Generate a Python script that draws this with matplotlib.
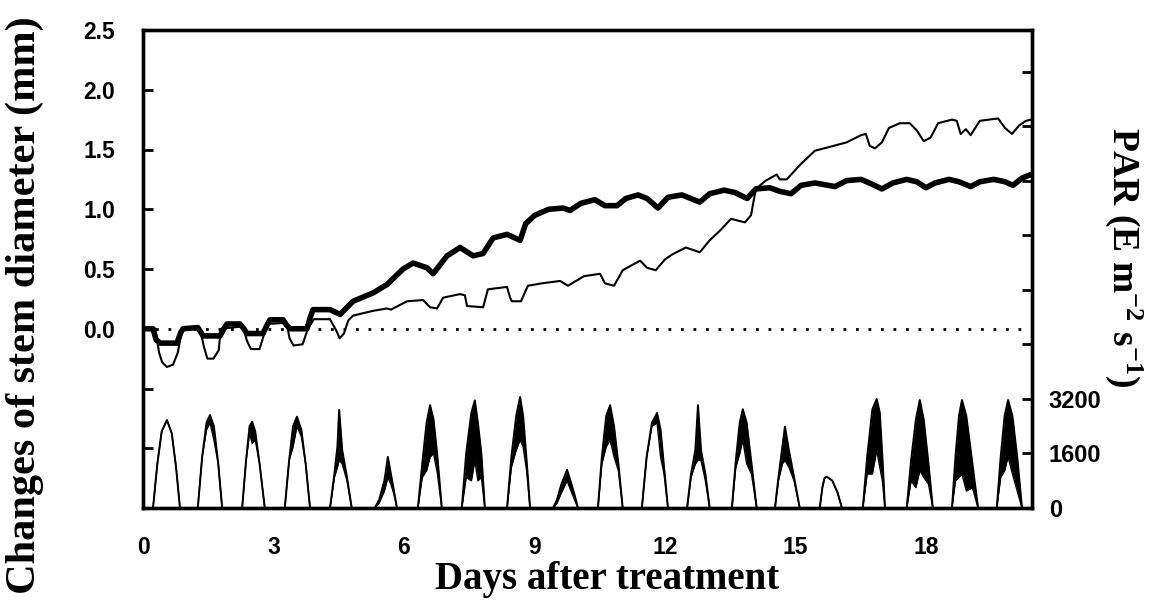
import matplotlib
matplotlib.use("Agg")
import matplotlib.pyplot as plt
import numpy as np

plt.rcParams["mathtext.fontset"] = "custom"
plt.rcParams["mathtext.rm"] = "Liberation Serif:bold"
plt.rcParams["mathtext.bf"] = "Liberation Serif:bold"
plt.rcParams["mathtext.it"] = "Liberation Serif:bold:italic"

# ---------------- data ----------------
# thick line: days, change of stem diameter (mm)
thick_days = [0.00, 0.23, 0.30, 0.39, 0.78, 0.87, 0.92, 1.26, 1.33, 1.38, 1.77, 1.86, 1.93, 2.23,
              2.32, 2.39, 2.76, 2.85, 2.92, 3.22, 3.30, 3.38, 3.77, 3.85, 3.91, 4.30, 4.53, 4.83,
              5.29, 5.61, 5.98, 6.21, 6.53, 6.67, 6.99, 7.29, 7.59, 7.82, 8.05, 8.37, 8.67, 8.80,
              9.01, 9.33, 9.66, 9.82, 10.07, 10.39, 10.62, 10.90, 11.10, 11.38, 11.59, 11.84,
              12.07, 12.39, 12.80, 13.03, 13.36, 13.61, 13.89, 14.09, 14.41, 14.64, 14.90, 15.13,
              15.45, 15.91, 16.18, 16.51, 16.76, 16.99, 17.24, 17.56, 17.79, 18.00, 18.21, 18.53,
              18.76, 19.03, 19.24, 19.56, 19.82, 20.00, 20.21, 20.41]
thick_mm = [0.00, 0.00, -0.09, -0.12, -0.12, -0.03, 0.00, 0.01, -0.03, -0.06, -0.06, 0.00, 0.04, 0.04,
            0.00, -0.04, -0.04, 0.03, 0.075, 0.075, 0.03, 0.00, 0.00, 0.10, 0.16, 0.16, 0.12, 0.23,
            0.30, 0.37, 0.50, 0.55, 0.51, 0.46, 0.61, 0.68, 0.61, 0.63, 0.76, 0.79, 0.74, 0.88,
            0.95, 1.00, 1.01, 0.99, 1.05, 1.08, 1.03, 1.03, 1.09, 1.12, 1.09, 1.01,
            1.10, 1.12, 1.06, 1.13, 1.16, 1.14, 1.09, 1.17, 1.18, 1.15, 1.13, 1.20,
            1.22, 1.19, 1.24, 1.25, 1.21, 1.17, 1.22, 1.25, 1.23, 1.18, 1.22, 1.25,
            1.23, 1.19, 1.23, 1.25, 1.23, 1.20, 1.26, 1.29]

# thin line: days, change of stem diameter (mm)
thin_days = [0.00, 0.28, 0.37, 0.44, 0.55, 0.69, 0.80, 0.89, 0.92, 1.31, 1.40, 1.48, 1.62, 1.74,
             1.79, 2.30, 2.39, 2.48, 2.68, 2.78, 2.85, 3.30, 3.37, 3.46, 3.67, 3.79, 3.93, 4.30,
             4.45, 4.52, 4.62, 4.72, 4.83, 5.29, 5.61, 5.70, 6.07, 6.44, 6.60, 6.76, 6.90, 7.29,
             7.40, 7.45, 7.82, 7.93, 8.37, 8.44, 8.48, 8.69, 8.85, 9.17, 9.59, 9.77, 10.14, 10.51,
             10.62, 10.83, 11.03, 11.43, 11.59, 11.79, 12.00, 12.16, 12.48, 12.80, 13.03, 13.29,
             13.52, 13.84, 13.98, 14.09, 14.32, 14.57, 14.64, 14.80, 15.13, 15.45, 15.77, 16.18,
             16.51, 16.62, 16.71, 16.83, 16.99, 17.15, 17.40, 17.63, 17.79, 17.95, 18.11, 18.28,
             18.60, 18.71, 18.80, 18.92, 19.03, 19.24, 19.66, 19.82, 19.98, 20.14, 20.30, 20.41]
thin_mm = [0.00, 0.00, -0.20, -0.28, -0.32, -0.30, -0.20, -0.02, 0.00, 0.00, -0.15, -0.25, -0.25, -0.18,
           0.00, 0.02, -0.10, -0.17, -0.17, -0.05, 0.04, 0.05, -0.08, -0.14, -0.13, 0.00, 0.08, 0.08,
           -0.02, -0.08, -0.04, 0.07, 0.11, 0.15, 0.17, 0.16, 0.23, 0.24, 0.18, 0.17, 0.26, 0.29,
           0.28, 0.19, 0.18, 0.33, 0.35, 0.26, 0.23, 0.23, 0.36, 0.38, 0.40, 0.36, 0.44, 0.46,
           0.38, 0.36, 0.49, 0.57, 0.51, 0.49, 0.58, 0.62, 0.68, 0.64, 0.74, 0.83,
           0.92, 0.89, 0.95, 1.17, 1.24, 1.29, 1.25, 1.25, 1.38, 1.49, 1.52, 1.56,
           1.62, 1.63, 1.53, 1.51, 1.56, 1.68, 1.72, 1.72, 1.66, 1.57, 1.60, 1.72,
           1.75, 1.74, 1.63, 1.67, 1.62, 1.74, 1.76, 1.68, 1.63, 1.70, 1.74, 1.75]

# PAR daily peaks: times (days), upper envelope and lower envelope of the noisy trace
par_days = [
    [0.23, 0.33, 0.43, 0.55, 0.66, 0.76, 0.85],
    [1.26, 1.36, 1.46, 1.54, 1.63, 1.73, 1.82],
    [2.28, 2.37, 2.45, 2.51, 2.58, 2.68, 2.80],
    [3.26, 3.36, 3.45, 3.54, 3.64, 3.74, 3.84],
    [4.30, 4.40, 4.47, 4.51, 4.58, 4.69, 4.80],
    [5.33, 5.43, 5.55, 5.63, 5.70, 5.77, 5.84],
    [6.32, 6.42, 6.52, 6.60, 6.68, 6.77, 6.87],
    [7.33, 7.43, 7.55, 7.63, 7.70, 7.78, 7.86],
    [8.37, 8.47, 8.58, 8.67, 8.74, 8.82, 8.90],
    [9.43, 9.52, 9.62, 9.75, 9.84, 9.92, 10.00],
    [10.46, 10.55, 10.65, 10.74, 10.83, 10.93, 11.03],
    [11.47, 11.58, 11.70, 11.82, 11.90, 11.98, 12.07],
    [12.51, 12.60, 12.70, 12.76, 12.83, 12.93, 13.03],
    [13.54, 13.63, 13.72, 13.79, 13.88, 13.99, 14.11],
    [14.53, 14.61, 14.70, 14.76, 14.85, 14.97, 15.10],
    [15.56, 15.62, 15.67, 15.72, 15.85, 15.97, 16.07],
    [16.55, 16.65, 16.77, 16.87, 16.94, 17.00, 17.06],
    [17.56, 17.66, 17.77, 17.86, 17.95, 18.06, 18.16],
    [18.60, 18.68, 18.76, 18.83, 18.93, 19.07, 19.20],
    [19.63, 19.72, 19.81, 19.89, 19.99, 20.10, 20.21],
]
par_high = [
    [0, 1300, 2250, 2580, 2200, 1200, 0],
    [0, 1500, 2500, 2730, 2400, 1300, 0],
    [0, 1400, 2400, 2530, 2250, 1300, 0],
    [0, 1400, 2400, 2680, 2300, 1300, 0],
    [0, 1000, 1800, 2880, 1700, 900, 0],
    [0, 250, 800, 1500, 1000, 500, 0],
    [0, 1300, 2500, 3020, 2600, 1500, 0],
    [0, 1600, 2800, 3160, 2500, 1600, 0],
    [0, 1500, 2700, 3260, 2700, 1400, 0],
    [0, 250, 700, 1120, 750, 400, 0],
    [0, 1500, 2700, 3020, 2400, 1300, 0],
    [0, 1500, 2500, 2790, 2300, 1200, 0],
    [0, 1000, 1700, 3020, 1700, 1000, 0],
    [0, 1400, 2500, 2900, 2500, 1300, 0],
    [0, 900, 1800, 2390, 1700, 900, 0],
    [0, 600, 880, 920, 800, 450, 0],
    [0, 1500, 2900, 3200, 2800, 1500, 0],
    [0, 1400, 2600, 3170, 2600, 1300, 0],
    [0, 1500, 2700, 3170, 2700, 1300, 0],
    [0, 1500, 2700, 3170, 2700, 1500, 0],
]
par_low = [
    [0, 1300, 2250, 2580, 2200, 1200, 0],
    [0, 1500, 2300, 2500, 2000, 1300, 0],
    [0, 1400, 2200, 1900, 2000, 1300, 0],
    [0, 1400, 1800, 2400, 2100, 1300, 0],
    [0, 900, 1200, 1400, 1300, 800, 0],
    [0, 150, 500, 900, 700, 400, 0],
    [0, 900, 1100, 1500, 1600, 1000, 0],
    [0, 900, 800, 1400, 800, 900, 0],
    [0, 1200, 1700, 2000, 1800, 1100, 0],
    [0, 150, 450, 800, 500, 250, 0],
    [0, 1300, 1800, 2000, 1500, 1100, 0],
    [0, 1500, 2400, 2500, 1500, 1000, 0],
    [0, 900, 1300, 1400, 1400, 800, 0],
    [0, 1200, 1600, 2000, 1300, 1000, 0],
    [0, 800, 1300, 1400, 1200, 800, 0],
    [0, 600, 880, 920, 800, 450, 0],
    [0, 1000, 1000, 1700, 1200, 800, 0],
    [0, 800, 600, 1100, 900, 700, 0],
    [0, 800, 900, 1000, 500, 600, 0],
    [0, 900, 1100, 1500, 1000, 500, 0],
]

x_ticks = [0, 3, 6, 9, 12, 15, 18]
y_ticks = [-1.5, -1.0, -0.5, 0.0, 0.5, 1.0, 1.5, 2.0, 2.5]
y_ticklabels = ["", "", "", "0.0", "0.5", "1.0", "1.5", "2.0", "2.5"]
par_ticks = [0, 1600, 3200, 4800, 6400, 8000, 9600, 11200, 12800]
par_ticklabels = ["0", "1600", "3200", "", "", "", "", "", ""]

# ---------------- figure ----------------
fig = plt.figure(figsize=(11.6, 6.04), dpi=100)
ax = fig.add_axes([143 / 1160, 1 - 508 / 604, (1032 - 143) / 1160, (508 - 30) / 604])
ax2 = ax.twinx()

XMAX = 20.44
ax.set_xlim(0, XMAX)
ax.set_ylim(-1.5, 2.5)
ax2.set_ylim(0, 14033)

# dotted zero line
ax.plot([0, XMAX], [0, 0], color="black", lw=2.0, linestyle=(0, (1.0, 3.5)), zorder=2)

ax.plot(thin_days, thin_mm, color="black", lw=1.5, zorder=3, solid_joinstyle="round")
ax.plot(thick_days, thick_mm, color="black", lw=4.0, zorder=4, solid_joinstyle="round",
        solid_capstyle="round")

# PAR trace
t_all, hi_all, lo_all = [0.0], [0.0], [0.0]
for t, h, l in zip(par_days, par_high, par_low):
    t_all += t
    hi_all += h
    lo_all += l
t_all.append(XMAX)
hi_all.append(0)
lo_all.append(0)
ax2.fill_between(t_all, lo_all, hi_all, color="black", lw=0)
ax2.plot(t_all, hi_all, color="black", lw=1.4)
ax2.plot(t_all, lo_all, color="black", lw=1.0)

tick_font = dict(family="Liberation Sans", weight="bold", size=16.5)
ax.set_xticks(x_ticks)
ax.set_xticklabels([str(v) for v in x_ticks], fontdict=tick_font)
ax.set_yticks(y_ticks)
ax.set_yticklabels(y_ticklabels, fontdict=tick_font)
ax2.set_yticks(par_ticks)
ax2.set_yticklabels(par_ticklabels, fontdict=dict(family="Liberation Sans", weight="bold", size=17))

ax.tick_params(axis="x", direction="in", length=0, pad=20)
ax.tick_params(axis="y", direction="in", length=7, width=2, pad=20)
ax2.tick_params(axis="y", direction="in", length=7, width=2, pad=12)

for a in (ax, ax2):
    for s in a.spines.values():
        s.set_linewidth(2.4)

label_font = dict(family="Liberation Serif", weight="bold")
fig.text(25 / 1160, 1 - 305 / 604, "Changes of stem diameter (mm)", rotation=90,
         ha="center", va="center", fontsize=30.5, **label_font)
fig.text(607 / 1160, 1 - 589 / 604, "Days after treatment", ha="center", va="baseline",
         fontsize=28, **label_font)
fig.text(1124 / 1160, 1 - 257 / 604, r"PAR (E m$^{-2}$ s$^{-1}$)", rotation=-90,
         ha="center", va="center", fontsize=27, **label_font)

fig.savefig("out.png", dpi=100)
